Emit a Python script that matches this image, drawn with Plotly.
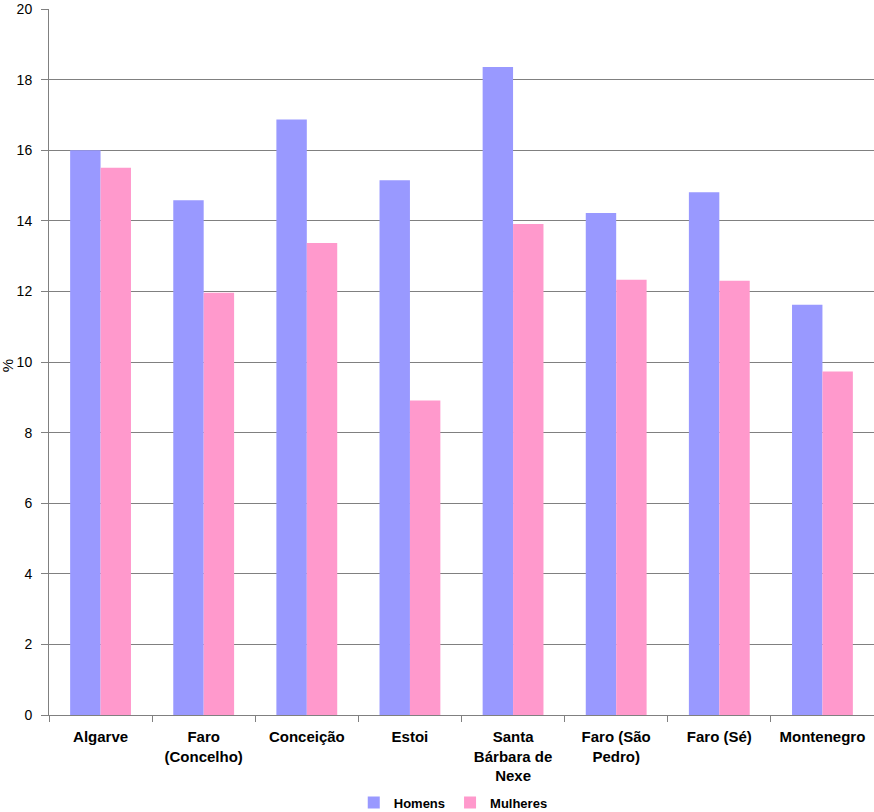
import plotly.graph_objects as go

categories = ["Algarve", "Faro<br>(Concelho)", "Conceição", "Estoi", "Santa<br>Bárbara de<br>Nexe",
              "Faro (São<br>Pedro)", "Faro (Sé)", "Montenegro"]
homens = [16.0, 14.58, 16.87, 15.15, 18.36, 14.22, 14.81, 11.62]
mulheres = [15.5, 11.96, 13.37, 8.91, 13.91, 12.33, 12.30, 9.73]
y_ticks = [0, 2, 4, 6, 8, 10, 12, 14, 16, 18, 20]

fig = go.Figure()
fig.add_trace(go.Bar(x=categories, y=homens, name="Homens", marker=dict(color="#9999FF", line=dict(width=0))))
fig.add_trace(go.Bar(x=categories, y=mulheres, name="Mulheres", marker=dict(color="#FF99CC", line=dict(width=0))))

fig.update_layout(
    width=874, height=812,
    margin=dict(l=49, r=0, t=9, b=97, autoexpand=False),
    paper_bgcolor="white", plot_bgcolor="white",
    barmode="group", bargap=0.41, bargroupgap=0,
    font=dict(family="Liberation Sans, Arial, sans-serif", color="black", size=14),
    showlegend=True,
    legend=dict(orientation="h", x=0.49, xanchor="center", y=-0.124, yanchor="middle",
                font=dict(size=13, family="Liberation Sans, Arial, sans-serif", weight="bold"),
                itemwidth=30, tracegroupgap=0),
    xaxis=dict(showline=True, linecolor="#808080", linewidth=1, ticks="outside", tickson="boundaries",
               ticklen=6, tickcolor="#808080", showgrid=False, automargin=False,
               tickfont=dict(size=15, weight="bold"), ticklabelstandoff=8),
    yaxis=dict(range=[0, 20], tickvals=y_ticks, showline=True, linecolor="#808080", linewidth=1,
               ticks="outside", ticklen=7, tickcolor="#808080", showgrid=True, gridcolor="#808080",
               gridwidth=1, tickfont=dict(size=14), zeroline=False, ticklabelstandoff=6,
               automargin=False, ticklabeloverflow="allow"),
    annotations=[dict(text="%", xref="paper", yref="paper", x=-0.05, y=0.495, showarrow=False,
                      textangle=-90, font=dict(size=15), xanchor="center", yanchor="middle")],
)

fig.write_html("out.html", config={"displayModeBar": False},
               post_script="document.body.style.margin='0';document.body.style.overflow='hidden';")
